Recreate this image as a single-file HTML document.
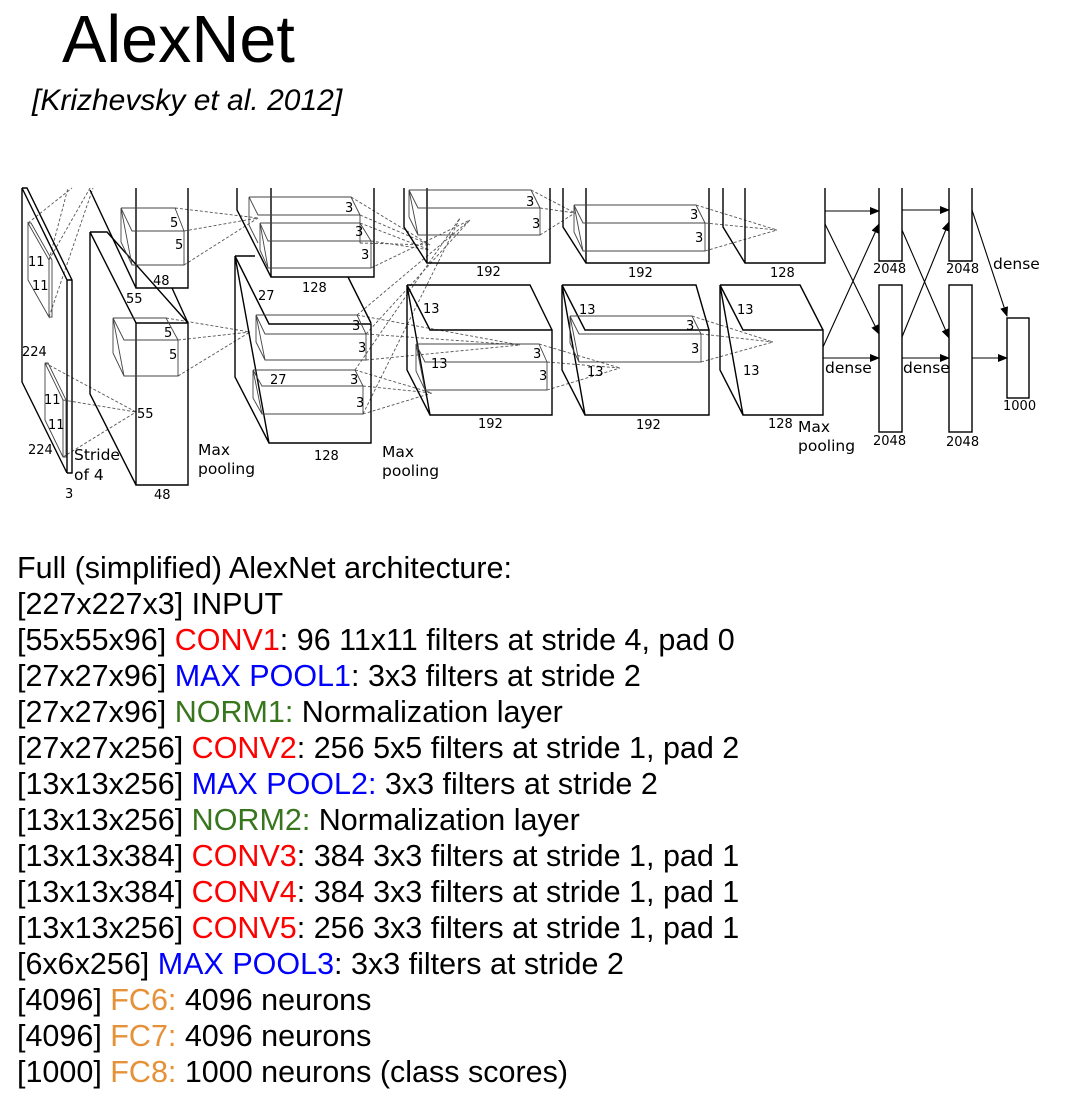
<!DOCTYPE html>
<html><head><meta charset="utf-8"><style>
html,body{margin:0;padding:0;background:#fff;}
body{width:1075px;height:1109px;position:relative;overflow:hidden;font-family:"Liberation Sans",sans-serif;}
.t{position:absolute;white-space:nowrap;color:#000;}
.l{position:absolute;left:17px;font-size:30.5px;white-space:nowrap;line-height:32px;}
.r{color:#ff0000}.b{color:#0000ff}.g{color:#38761d}.o{color:#e69138}
svg{position:absolute;left:0;top:0;}
</style></head><body>
<div class="t" style="left:62px;top:2px;font-size:66.5px;">AlexNet</div>
<div class="t" style="left:32px;top:84px;font-size:30px;font-style:italic;">[Krizhevsky et al. 2012]</div>

<svg width="1075" height="520" viewBox="0 0 1075 520">
<defs><marker id="a" markerWidth="10" markerHeight="8" refX="9" refY="4" orient="auto" markerUnits="userSpaceOnUse"><path d="M0,0 L10,4 L0,8 Z" fill="#000"/></marker></defs>
<g fill="none" stroke="#555" stroke-width="0.9" stroke-dasharray="3,2">
<path d="M49,260 L68,188 M49,317 L93,188 M28,223 L72,188 M49,260 L90,188"/>
<path d="M45,363 L136,412 M63,400 L136,412 M63,457 L136,412"/>
<path d="M175,208 L258,218 M184,231 L258,218 M184,265 L258,218"/>
<path d="M166,318 L250,332 M178,340 L250,332 M178,376 L250,332"/>
<path d="M351,197 L430,245 M360,215 L430,245 M360,243 L430,245 M360,223 L430,250 M371,241 L430,250 M371,268 L470,220"/>
<path d="M357,315 L470,220 M366,334 L470,220 M357,315 L520,345 M366,334 L520,345 M366,360 L520,345"/>
<path d="M355,370 L432,393 M363,386 L432,393 M363,414 L432,393 M355,370 L460,218 M363,414 L460,218"/>
<path d="M531,190 L575,213 M540,208 L575,213 M540,235 L575,213"/>
<path d="M539,344 L620,368 M547,362 L620,368 M547,390 L620,368"/>
<path d="M696,205 L777,230 M705,223 L777,230 M705,251 L777,230"/>
<path d="M692,316 L773,342 M701,334 L773,342 M701,362 L773,342"/>
</g>
<g fill="none" stroke="#000" stroke-width="1.4">
<path d="M22,188 L67,280 L67,473 M22,188 L22,382 L67,473 M22,188 L27,188 L72,280 L72,473 L67,473 M67,280 L72,280"/>
<path d="M90,190 L136,288 M136,188 L136,288 L188,288 L188,188 M172,288 L188,323"/>
<path d="M90,232 L107,232 L188,323 M90,232 L136,323 M136,323 L188,323 L188,485 L136,485 Z M90,232 L90,394 L136,485"/>
<path d="M237,188 L237,210 L271,277 L374,277 L374,188 M271,188 L271,277 M348,277 L371,323"/>
<path d="M235,256 L255,256 M235,256 L269,324 L371,324 L371,443 L269,443 Z M235,256 L235,377 L269,443"/>
<path d="M404,188 L404,227 L427,263 L550,263 L550,188 M427,188 L427,263"/>
<path d="M407,285 L530,285 L552,330 M407,285 L430,330 L552,330 L552,415 L430,415 Z M407,285 L407,370 L430,415"/>
<path d="M563,188 L563,227 L586,263 L709,263 L709,188 M586,188 L586,263"/>
<path d="M562,285 L696,285 L709,330 M562,285 L585,330 L709,330 L709,415 L585,415 Z M562,285 L562,370 L585,415"/>
<path d="M723,188 L723,227 L745,263 L825,263 L825,188 M745,188 L745,263"/>
<path d="M720,285 L800,285 L823,330 M720,285 L743,330 L823,330 L823,415 L743,415 Z M720,285 L720,370 L743,415"/>
<path d="M879,188 L879,261 L902,261 L902,188 M949,188 L949,261 L972,261 L972,188"/>
<rect x="879" y="285" width="23" height="147"/><rect x="949" y="285" width="23" height="147"/>
<rect x="1007" y="318" width="22" height="80"/>
</g>
<g fill="none" stroke="#000" stroke-width="1.1" marker-end="url(#a)">
<path d="M825,211 L879,211"/><path d="M825,224 L879,334"/><path d="M823,347 L879,224"/><path d="M823,358 L879,358"/>
<path d="M902,210 L949,210"/><path d="M902,230 L949,338"/><path d="M902,337 L949,222"/><path d="M902,358 L949,358"/>
<path d="M972,210 L1007,316"/><path d="M972,358 L1007,358"/>
</g>
<g fill="none" stroke="#444" stroke-width="0.9">
<path d="M28,223 L49,260 L49,317 L28,280 Z M28,223 L31,223 L52,260 L52,317 L49,317"/>
<path d="M45,363 L63,400 L63,457 L45,420 Z M45,363 L48,363 L66,400 L66,457 L63,457"/>
<path d="M121,208 L175,208 L184,231 M121,208 L132,231 L184,231 L184,265 L132,265 Z M121,208 L121,242 L132,265"/>
<path d="M113,318 L166,318 L178,340 M113,318 L124,340 L178,340 L178,376 L124,376 Z M113,318 L113,353 L124,376"/>
<path d="M249,197 L351,197 L360,215 M249,197 L258,215 L360,215 L360,243 M249,197 L249,225 L258,243"/>
<path d="M260,223 L360,223 L371,241 M260,223 L268,241 L371,241 L371,268 L268,268 Z M260,223 L260,250 L268,268"/>
<path d="M256,315 L357,315 L366,334 M256,315 L265,334 L366,334 L366,360 L265,360 Z M256,315 L256,342 L265,360"/>
<path d="M253,370 L355,370 L363,386 M253,370 L262,386 L363,386 L363,414 L262,414 Z M253,370 L253,398 L262,414"/>
<path d="M409,190 L531,190 L540,208 M409,190 L418,208 L540,208 L540,235 L418,235 Z M409,190 L409,217 L418,235"/>
<path d="M416,344 L539,344 L547,362 M416,344 L425,362 L547,362 L547,390 L425,390 Z M416,344 L416,371 L425,390"/>
<path d="M574,205 L696,205 L705,223 M574,205 L583,223 L705,223 L705,251 L583,251 Z M574,205 L574,232 L583,251"/>
<path d="M570,316 L692,316 L701,334 M570,316 L579,334 L701,334 L701,362 L579,362 Z M570,316 L570,343 L579,362"/>
</g>
<g font-family="DejaVu Sans, sans-serif" font-size="13" fill="#000">
<text x="28" y="266">11</text><text x="32" y="290">11</text><text x="22" y="356">224</text>
<text x="44" y="404">11</text><text x="48" y="429">11</text><text x="28" y="454">224</text>
<text x="74" y="460" font-size="15.5">Stride</text><text x="74" y="480" font-size="15.5">of 4</text><text x="65" y="498">3</text>
<text x="170" y="227">5</text><text x="175" y="249">5</text><text x="153" y="285">48</text><text x="126" y="303">55</text>
<text x="164" y="337">5</text><text x="169" y="359">5</text><text x="137" y="418">55</text><text x="154" y="499">48</text>
<text x="198" y="455" font-size="15.5">Max</text><text x="198" y="474" font-size="15.5">pooling</text>
<text x="345" y="212">3</text><text x="355" y="236">3</text><text x="361" y="259">3</text>
<text x="258" y="300">27</text><text x="302" y="292">128</text>
<text x="352" y="330">3</text><text x="358" y="352">3</text>
<text x="270" y="384">27</text><text x="350" y="384">3</text><text x="356" y="407">3</text>
<text x="314" y="460">128</text>
<text x="382" y="457" font-size="15.5">Max</text><text x="382" y="476" font-size="15.5">pooling</text>
<text x="526" y="206">3</text><text x="532" y="228">3</text><text x="476" y="276">192</text>
<text x="423" y="313">13</text><text x="431" y="368">13</text><text x="533" y="358">3</text><text x="539" y="380">3</text><text x="478" y="428">192</text>
<text x="690" y="219">3</text><text x="695" y="242">3</text><text x="628" y="277">192</text>
<text x="579" y="314">13</text><text x="587" y="376">13</text><text x="686" y="330">3</text><text x="691" y="353">3</text><text x="636" y="429">192</text>
<text x="770" y="277">128</text><text x="737" y="314">13</text><text x="743" y="375">13</text><text x="768" y="428">128</text>
<text x="798" y="432" font-size="15.5">Max</text><text x="798" y="451" font-size="15.5">pooling</text>
<text x="873" y="273">2048</text><text x="946" y="273">2048</text><text x="873" y="445">2048</text><text x="946" y="446">2048</text>
<text x="1003" y="410">1000</text>
<text x="993" y="269" font-size="15.5">dense</text><text x="825" y="373" font-size="15.5">dense</text><text x="903" y="373" font-size="15.5">dense</text>
</g>
</svg>

<div class="l" style="top:552px">Full (simplified) AlexNet architecture:</div>
<div class="l" style="top:588px">[227x227x3] INPUT</div>
<div class="l" style="top:624px">[55x55x96] <span class="r">CONV1</span>: 96 11x11 filters at stride 4, pad 0</div>
<div class="l" style="top:660px">[27x27x96] <span class="b">MAX POOL1</span>: 3x3 filters at stride 2</div>
<div class="l" style="top:696px">[27x27x96] <span class="g">NORM1:</span> Normalization layer</div>
<div class="l" style="top:732px">[27x27x256] <span class="r">CONV2</span>: 256 5x5 filters at stride 1, pad 2</div>
<div class="l" style="top:768px">[13x13x256] <span class="b">MAX POOL2:</span> 3x3 filters at stride 2</div>
<div class="l" style="top:804px">[13x13x256] <span class="g">NORM2:</span> Normalization layer</div>
<div class="l" style="top:840px">[13x13x384] <span class="r">CONV3</span>: 384 3x3 filters at stride 1, pad 1</div>
<div class="l" style="top:876px">[13x13x384] <span class="r">CONV4</span>: 384 3x3 filters at stride 1, pad 1</div>
<div class="l" style="top:912px">[13x13x256] <span class="r">CONV5</span>: 256 3x3 filters at stride 1, pad 1</div>
<div class="l" style="top:948px">[6x6x256] <span class="b">MAX POOL3</span>: 3x3 filters at stride 2</div>
<div class="l" style="top:984px">[4096] <span class="o">FC6:</span> 4096 neurons</div>
<div class="l" style="top:1020px">[4096] <span class="o">FC7:</span> 4096 neurons</div>
<div class="l" style="top:1056px">[1000] <span class="o">FC8:</span> 1000 neurons (class scores)</div>
</body></html>
